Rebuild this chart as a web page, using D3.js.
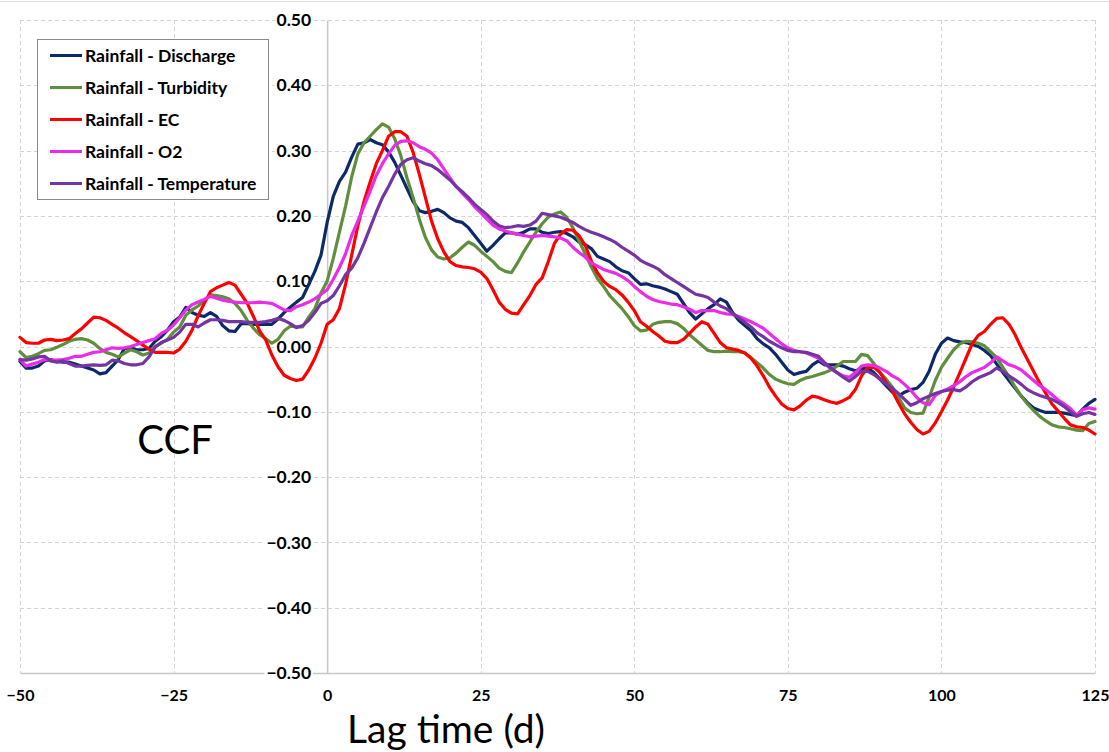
<!DOCTYPE html>
<html>
<head>
<meta charset="utf-8">
<script src="https://cdn.jsdelivr.net/npm/d3@7"></script>
<style>
  html, body { margin: 0; padding: 0; background: #fff; }
  svg { display: block; }
</style>
</head>
<body>
<svg id="chart" width="1109" height="752"></svg>
<script>
// ---- Data ----
const lagStart = -50, lagEnd = 125;
const lags = d3.range(lagStart, lagEnd + 1);

const seriesNames = ["Rainfall - Discharge", "Rainfall - Turbidity", "Rainfall - EC", "Rainfall - O2", "Rainfall - Temperature"];
const seriesColors = ["#0c2a6a", "#5f8f3c", "#ff0000", "#ea2ce8", "#7434a2"];

const xTicks = [-50, -25, 0, 25, 50, 75, 100, 125];
const yTicks = [-0.5, -0.4, -0.3, -0.2, -0.1, 0, 0.1, 0.2, 0.3, 0.4, 0.5];

const discharge = [
 -0.023,-0.033,-0.033,-0.030,-0.022,-0.020,-0.023,-0.024,-0.024,-0.027,
 -0.030,-0.033,-0.036,-0.042,-0.040,-0.030,-0.020,-0.003,-0.002,-0.005,
 -0.005,-0.003,0.008,0.015,0.025,0.038,0.045,0.060,0.052,0.048,
 0.046,0.052,0.046,0.032,0.024,0.023,0.035,0.035,0.034,0.034,
 0.034,0.034,0.042,0.052,0.060,0.068,0.075,0.095,0.115,0.140,
 0.190,0.230,0.253,0.267,0.290,0.310,0.312,0.317,0.312,0.309,
 0.298,0.282,0.262,0.242,0.222,0.208,0.205,0.207,0.210,0.205,
 0.197,0.192,0.190,0.182,0.170,0.158,0.146,0.155,0.165,0.174,
 0.174,0.172,0.175,0.180,0.180,0.175,0.173,0.175,0.176,0.173,
 0.168,0.160,0.156,0.150,0.138,0.134,0.130,0.122,0.116,0.113,
 0.104,0.095,0.096,0.093,0.091,0.088,0.084,0.080,0.066,0.052,
 0.042,0.050,0.058,0.064,0.073,0.068,0.052,0.040,0.032,0.024,
 0.012,0.004,-0.002,-0.012,-0.024,-0.036,-0.043,-0.040,-0.038,-0.028,
 -0.022,-0.028,-0.028,-0.028,-0.030,-0.034,-0.037,-0.034,-0.033,-0.040,
 -0.050,-0.060,-0.070,-0.076,-0.070,-0.066,-0.064,-0.055,-0.038,-0.012,
 0.005,0.013,0.009,0.007,0.006,0.003,0.000,-0.006,-0.014,-0.027,
 -0.040,-0.052,-0.064,-0.076,-0.086,-0.094,-0.098,-0.101,-0.101,-0.101,
 -0.102,-0.104,-0.106,-0.096,-0.087,-0.081
];

const turbidity = [
 -0.008,-0.017,-0.015,-0.011,-0.006,-0.005,-0.001,0.003,0.008,0.011,
 0.012,0.010,0.005,-0.003,-0.009,-0.012,-0.016,-0.010,-0.005,-0.008,
 -0.013,-0.010,0.000,0.005,0.011,0.022,0.030,0.048,0.056,0.062,
 0.070,0.079,0.078,0.076,0.073,0.066,0.055,0.040,0.028,0.018,
 0.012,0.005,0.011,0.024,0.031,0.030,0.030,0.045,0.058,0.082,
 0.100,0.135,0.175,0.215,0.260,0.295,0.312,0.322,0.332,0.341,
 0.336,0.318,0.292,0.258,0.228,0.195,0.167,0.148,0.137,0.134,
 0.136,0.143,0.152,0.160,0.155,0.146,0.138,0.130,0.120,0.115,
 0.113,0.128,0.145,0.160,0.175,0.188,0.198,0.203,0.206,0.198,
 0.182,0.162,0.142,0.122,0.104,0.092,0.078,0.068,0.058,0.046,
 0.032,0.024,0.025,0.034,0.037,0.038,0.038,0.035,0.028,0.018,
 0.010,0.002,-0.006,-0.008,-0.008,-0.007,-0.008,-0.008,-0.010,-0.017,
 -0.025,-0.033,-0.043,-0.050,-0.054,-0.057,-0.058,-0.052,-0.048,-0.046,
 -0.043,-0.040,-0.036,-0.030,-0.023,-0.023,-0.023,-0.012,-0.014,-0.026,
 -0.040,-0.050,-0.062,-0.078,-0.094,-0.101,-0.103,-0.102,-0.078,-0.052,
 -0.032,-0.018,-0.005,0.004,0.008,0.007,0.005,0.001,-0.008,-0.017,
 -0.032,-0.046,-0.062,-0.076,-0.088,-0.098,-0.107,-0.114,-0.120,-0.123,
 -0.124,-0.126,-0.128,-0.129,-0.118,-0.115
];

const ec = [
 0.014,0.006,0.005,0.005,0.010,0.011,0.009,0.010,0.012,0.020,
 0.027,0.036,0.045,0.044,0.040,0.034,0.028,0.021,0.015,0.009,
 0.002,-0.004,-0.009,-0.009,-0.009,-0.010,-0.004,0.008,0.025,0.047,
 0.066,0.084,0.090,0.094,0.098,0.094,0.080,0.066,0.046,0.024,
 0.010,-0.013,-0.031,-0.044,-0.049,-0.052,-0.050,-0.036,-0.018,0.005,
 0.034,0.041,0.058,0.095,0.140,0.185,0.222,0.252,0.280,0.300,
 0.322,0.329,0.329,0.322,0.297,0.264,0.228,0.192,0.165,0.145,
 0.130,0.124,0.122,0.121,0.119,0.114,0.104,0.087,0.068,0.057,
 0.051,0.050,0.064,0.078,0.095,0.105,0.130,0.158,0.172,0.179,
 0.178,0.170,0.155,0.131,0.113,0.100,0.092,0.087,0.079,0.068,
 0.055,0.038,0.031,0.023,0.016,0.008,0.006,0.006,0.011,0.020,
 0.030,0.038,0.034,0.020,0.006,-0.002,-0.004,-0.006,-0.010,-0.018,
 -0.030,-0.045,-0.062,-0.076,-0.088,-0.095,-0.097,-0.091,-0.082,-0.076,
 -0.078,-0.082,-0.085,-0.087,-0.083,-0.078,-0.066,-0.045,-0.032,-0.032,
 -0.040,-0.055,-0.068,-0.086,-0.103,-0.116,-0.127,-0.134,-0.130,-0.117,
 -0.100,-0.082,-0.062,-0.040,-0.018,0.004,0.017,0.023,0.034,0.043,
 0.044,0.034,0.018,-0.002,-0.020,-0.038,-0.056,-0.072,-0.088,-0.099,
 -0.110,-0.120,-0.123,-0.124,-0.128,-0.134
];

const o2 = [
 -0.020,-0.030,-0.027,-0.024,-0.020,-0.021,-0.021,-0.020,-0.018,-0.015,
 -0.015,-0.012,-0.009,-0.008,-0.005,-0.002,-0.003,-0.002,0.000,0.003,
 0.006,0.009,0.012,0.020,0.025,0.033,0.044,0.056,0.064,0.068,
 0.072,0.077,0.074,0.071,0.069,0.068,0.067,0.067,0.067,0.068,
 0.067,0.066,0.061,0.056,0.055,0.061,0.064,0.068,0.073,0.080,
 0.087,0.103,0.121,0.142,0.170,0.192,0.215,0.238,0.262,0.280,
 0.295,0.308,0.314,0.315,0.312,0.306,0.302,0.296,0.286,0.272,
 0.258,0.245,0.235,0.225,0.214,0.205,0.195,0.186,0.180,0.177,
 0.174,0.172,0.170,0.168,0.169,0.170,0.169,0.168,0.166,0.162,
 0.152,0.144,0.137,0.128,0.123,0.118,0.115,0.112,0.107,0.101,
 0.092,0.084,0.077,0.072,0.069,0.067,0.065,0.064,0.061,0.057,
 0.052,0.055,0.055,0.055,0.052,0.050,0.049,0.046,0.042,0.038,
 0.033,0.028,0.020,0.012,0.004,-0.002,-0.006,-0.008,-0.010,-0.014,
 -0.018,-0.026,-0.034,-0.040,-0.045,-0.047,-0.040,-0.030,-0.028,-0.029,
 -0.033,-0.038,-0.045,-0.050,-0.058,-0.067,-0.078,-0.086,-0.089,-0.075,
 -0.069,-0.065,-0.060,-0.054,-0.046,-0.040,-0.036,-0.032,-0.025,-0.016,
 -0.022,-0.028,-0.031,-0.036,-0.044,-0.052,-0.060,-0.066,-0.074,-0.082,
 -0.088,-0.095,-0.105,-0.097,-0.094,-0.096
];

const temperature = [
 -0.020,-0.021,-0.019,-0.016,-0.015,-0.022,-0.024,-0.022,-0.026,-0.030,
 -0.030,-0.029,-0.028,-0.029,-0.028,-0.021,-0.022,-0.026,-0.028,-0.028,
 -0.026,-0.016,-0.001,0.006,0.010,0.014,0.022,0.034,0.034,0.030,
 0.036,0.041,0.041,0.040,0.038,0.038,0.038,0.037,0.037,0.037,
 0.038,0.040,0.043,0.040,0.035,0.029,0.032,0.040,0.052,0.066,
 0.070,0.078,0.093,0.110,0.120,0.136,0.158,0.182,0.206,0.228,
 0.245,0.264,0.279,0.286,0.289,0.284,0.280,0.277,0.271,0.263,
 0.255,0.245,0.237,0.228,0.218,0.210,0.202,0.192,0.185,0.182,
 0.183,0.185,0.184,0.186,0.192,0.204,0.202,0.200,0.198,0.194,
 0.190,0.184,0.179,0.175,0.172,0.168,0.164,0.159,0.152,0.146,
 0.140,0.132,0.127,0.123,0.118,0.110,0.104,0.098,0.092,0.086,
 0.080,0.078,0.075,0.068,0.062,0.058,0.051,0.044,0.037,0.030,
 0.021,0.015,0.008,0.003,-0.002,-0.006,-0.008,-0.008,-0.009,-0.012,
 -0.015,-0.025,-0.033,-0.040,-0.047,-0.053,-0.046,-0.038,-0.038,-0.043,
 -0.050,-0.057,-0.064,-0.072,-0.081,-0.090,-0.086,-0.080,-0.076,-0.072,
 -0.069,-0.067,-0.066,-0.068,-0.062,-0.054,-0.048,-0.044,-0.040,-0.033,
 -0.038,-0.045,-0.051,-0.058,-0.066,-0.071,-0.075,-0.078,-0.081,-0.086,
 -0.092,-0.100,-0.107,-0.103,-0.101,-0.104
];

const seriesValues = [discharge, turbidity, ec, o2, temperature];

// ---- Chart ----
const svg = d3.select("#chart");
const x = d3.scaleLinear().domain([lagStart, lagEnd]).range([20, 1095]);
const y = d3.scaleLinear().domain([-0.5, 0.5]).range([673, 20]);
const fontFam = "Lato, 'Open Sans', 'Liberation Sans', sans-serif";

// top image border line
svg.append("line").attr("x1", 0).attr("x2", 1109).attr("y1", 1.5).attr("y2", 1.5)
  .attr("stroke", "#e0e0e0").attr("stroke-width", 1);

// gridlines
const grid = svg.append("g");
grid.selectAll("line.h").data(yTicks.filter(v => v > -0.5)).join("line")
  .attr("x1", x(lagStart)).attr("x2", x(lagEnd))
  .attr("y1", d => Math.round(y(d)) + 0.5).attr("y2", d => Math.round(y(d)) + 0.5)
  .attr("stroke", "#d4d4d4").attr("stroke-width", 1).attr("stroke-dasharray", "4,3");
grid.selectAll("line.v").data(xTicks.filter(v => v !== 0)).join("line")
  .attr("x1", d => Math.round(x(d)) + 0.5).attr("x2", d => Math.round(x(d)) + 0.5)
  .attr("y1", y(0.5)).attr("y2", y(-0.5))
  .attr("stroke", "#d4d4d4").attr("stroke-width", 1).attr("stroke-dasharray", "4,3");

// x axis (bottom)
const xAxis = d3.axisBottom(x).tickValues(xTicks).tickSize(0).tickPadding(17)
  .tickFormat(d3.format("d"));
const gx = svg.append("g").attr("transform", `translate(0,${y(-0.5)})`).call(xAxis);
gx.select(".domain").attr("stroke", "#c8c8c8").attr("stroke-width", 1.5);
gx.selectAll("text").attr("font-family", fontFam).attr("font-weight", "bold")
  .attr("font-size", 16).attr("fill", "#000");

// y axis at lag 0
const yAxis = d3.axisLeft(y).tickValues(yTicks).tickSize(0).tickPadding(16)
  .tickFormat(d3.format(".2f"));
const gy = svg.append("g").attr("transform", `translate(${x(0)},0)`).call(yAxis);
gy.select(".domain").attr("stroke", "#c8c8c8").attr("stroke-width", 1.5);
gy.selectAll(".tick text").attr("font-family", fontFam).attr("font-weight", "bold")
  .attr("font-size", 17.5).attr("fill", "#000");
// white backgrounds behind y tick labels (interrupt gridlines)
gy.selectAll(".tick").each(function() {
  const t = d3.select(this).select("text");
  const bb = t.node().getBBox();
  d3.select(this).insert("rect", "text")
    .attr("x", bb.x - 2).attr("y", bb.y + 3).attr("width", bb.width + 4).attr("height", bb.height - 6)
    .attr("fill", "#fff");
});

// lines
const line = d3.line().x((d, i) => x(lags[i])).y(d => y(d));
svg.append("g").selectAll("path").data(seriesValues).join("path")
  .attr("d", d => line(d))
  .attr("fill", "none")
  .attr("stroke", (d, i) => seriesColors[i])
  .attr("stroke-width", 3.2)
  .attr("stroke-linejoin", "round")
  .attr("stroke-linecap", "round");

// legend
const lg = svg.append("g");
lg.append("rect").attr("x", 37.5).attr("y", 39.5).attr("width", 231).attr("height", 160)
  .attr("fill", "#fff").attr("stroke", "#8a8a8a").attr("stroke-width", 1);
seriesNames.forEach((name, i) => {
  const cy = 55.5 + i * 32;
  lg.append("line").attr("x1", 50).attr("x2", 82).attr("y1", cy).attr("y2", cy)
    .attr("stroke", seriesColors[i]).attr("stroke-width", 3);
  lg.append("text").attr("x", 85).attr("y", cy).attr("dy", "0.35em")
    .attr("font-family", fontFam).attr("font-weight", "bold").attr("font-size", 17.5)
    .attr("fill", "#000").text(name);
});

// axis titles
svg.append("text").attr("x", 175).attr("y", 440).attr("dy", "0.35em")
  .attr("text-anchor", "middle").attr("font-family", fontFam)
  .attr("font-size", 40).attr("fill", "#000").text("CCF");
svg.append("text").attr("x", 446).attr("y", 729).attr("dy", "0.35em")
  .attr("text-anchor", "middle").attr("font-family", fontFam)
  .attr("font-size", 39).attr("fill", "#000").text("Lag time (d)");
</script>
</body>
</html>
